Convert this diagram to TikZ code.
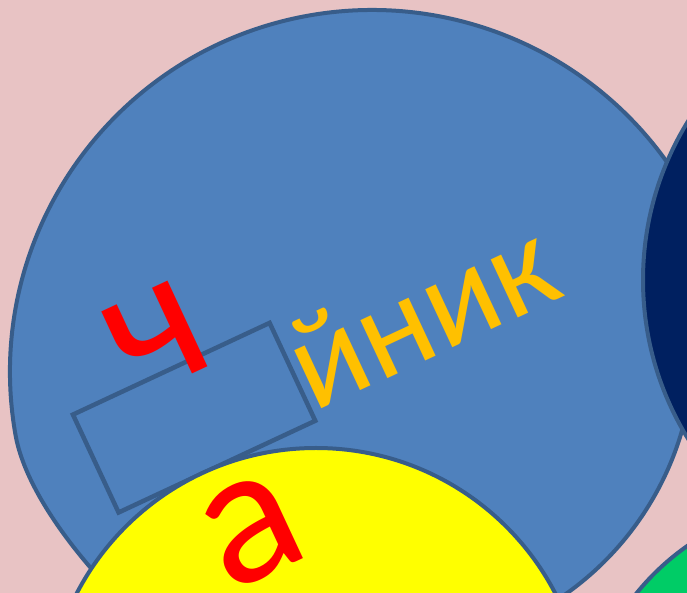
\documentclass[tikz,border=0pt]{standalone}
\usepackage{fontspec}
\setmainfont{Carlito}
\definecolor{bgpink}{RGB}{232,195,196}
\definecolor{bodyblue}{RGB}{79,129,189}
\definecolor{edgeblue}{RGB}{56,93,138}
\definecolor{spoutnavy}{RGB}{0,32,96}
\definecolor{lidyellow}{RGB}{255,255,0}
\definecolor{leafgreen}{RGB}{0,204,102}
\definecolor{wordorange}{RGB}{255,192,0}
\begin{document}
\begin{tikzpicture}[x=1pt, y=1pt,
    part/.style={draw=edgeblue, line width=4pt},
    letter/.style={inner sep=0pt, rotate=25}]
    % Parameters
    \def\bodyr{362}
    \def\tilt{25}
    \def\big{\fontsize{198}{198}\selectfont}
    \def\small{\fontsize{134}{134}\selectfont}

    \useasboundingbox (0,0) rectangle (687,593);
    \clip (0,0) rectangle (687,593);
    \fill[bgpink] (0,0) rectangle (687,593);

    % Blue body
    \draw[part, fill=bodyblue] ([shift={(372,221)}]190:\bodyr)
      arc[start angle=190, end angle=28, radius=\bodyr]
      .. controls (730,320) and (715,260) .. ([shift={(390,247)}]-5:304)
      arc[start angle=-5, end angle=-60, radius=304]
      -- (400,-180)
      .. controls (250,-150) and (36.4,39.9) .. cycle;

    % Navy circle (right)
    \draw[part, fill=spoutnavy] (945,313) circle[radius=302];

    % Empty box for the missing letter
    \node[part, rotate=\tilt, minimum width=217, minimum height=108,
      line width=4.5pt] (gap) at (194.1,175.3) {};

    % Yellow and green circles (bottom)
    \draw[part, fill=lidyellow] (316,-124.5) circle[radius=269.5];
    \draw[part, fill=leafgreen] (830,-157) circle[radius=249];

    % Letters
    \node[letter, text=red] (ch) at (158,255) {\big ч};
    \node[letter, text=wordorange] (rest) at (421,280) {\small йник};
    \node[letter, text=red] (a) at (251.7,62.3) {\big а};
\end{tikzpicture}
\end{document}
